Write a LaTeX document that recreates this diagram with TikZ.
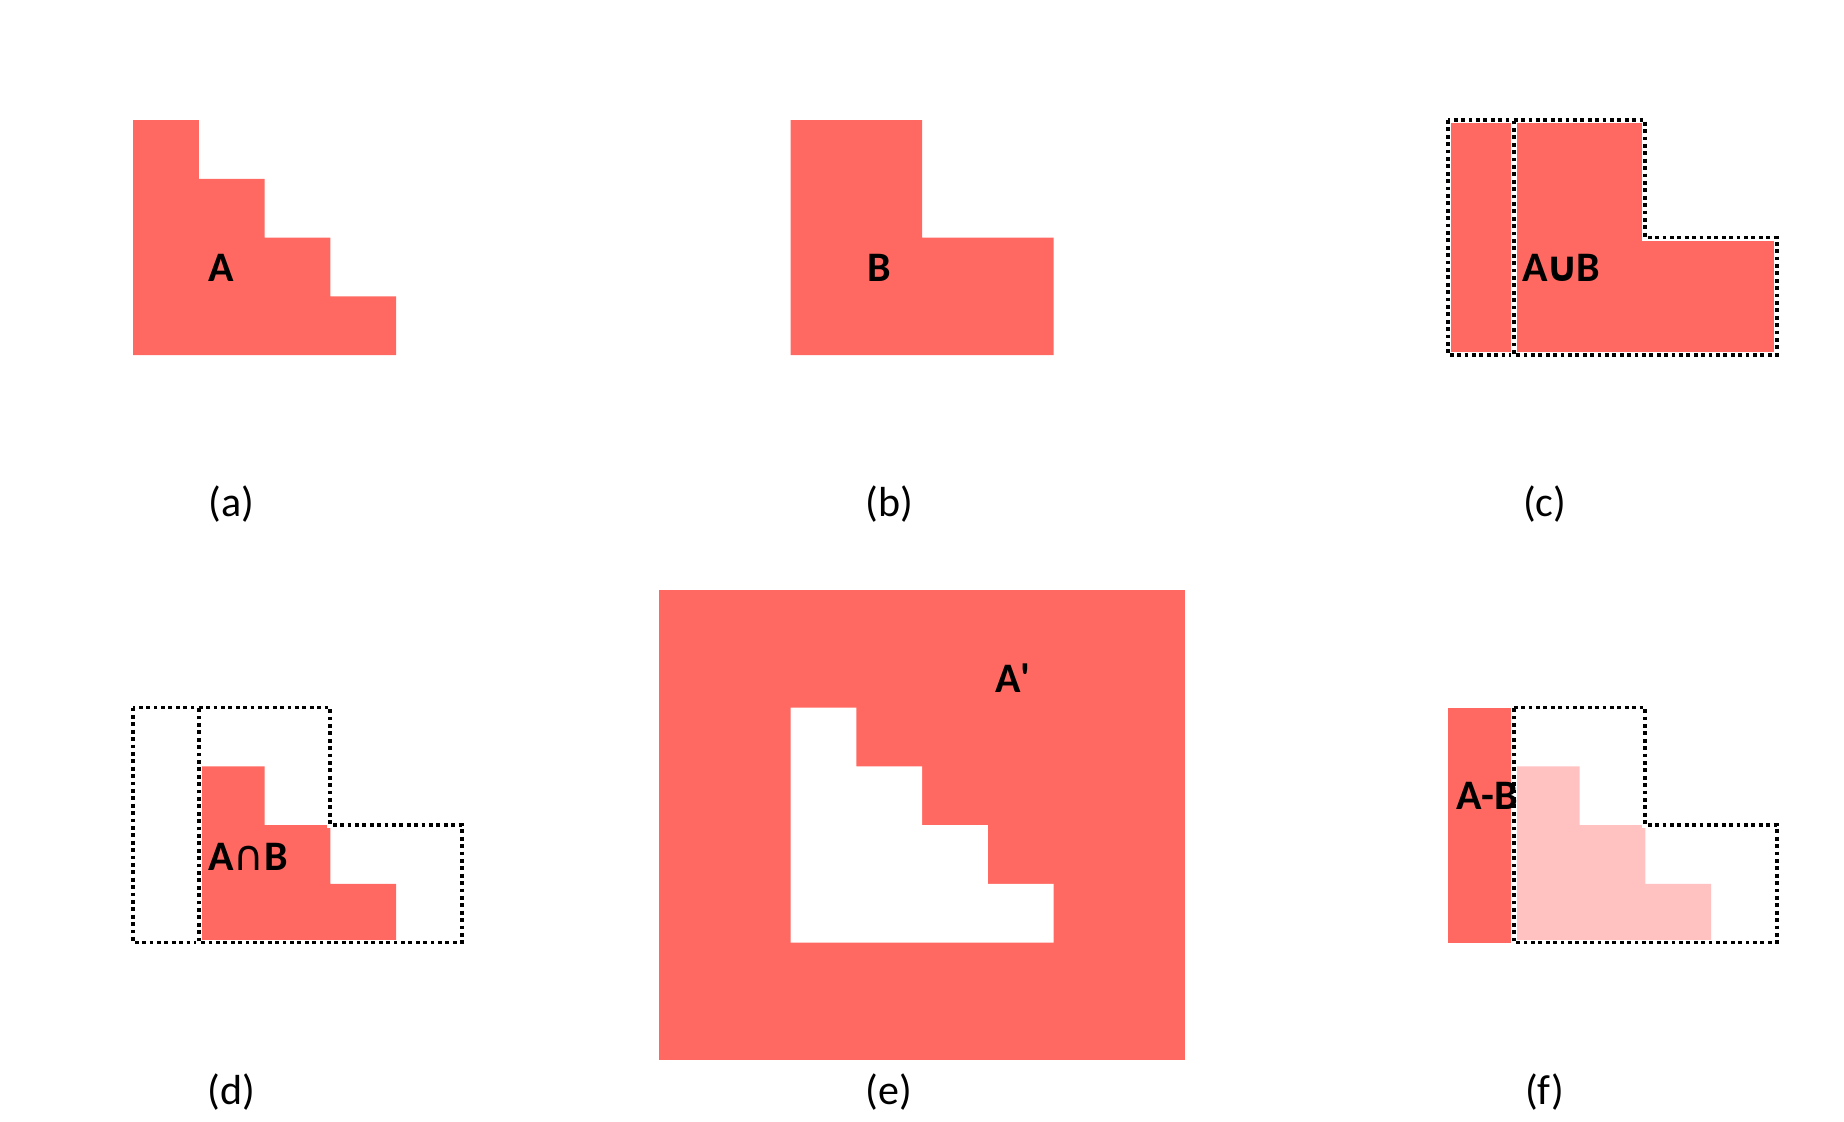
\documentclass[tikz,border=0pt]{standalone}
\usepackage{fontspec}
\setmainfont{Carlito}
\newfontfamily\symfont{DejaVu Sans}
\definecolor{setred}{HTML}{FF6961}
\definecolor{setpink}{HTML}{FFC2C1}
\newcommand{\picfont}{\fontsize{21pt}{25pt}\selectfont}
\tikzset{
  setfill/.style={fill=setred, draw=none},
  lightfill/.style={fill=setpink, draw=none},
  holefill/.style={fill=white, draw=none},
  dotline/.style={draw=black, line width=1.9pt, dash pattern=on 1.9pt off 1.8pt, preaction={draw=white, line width=3pt, solid}},
  setlabel/.style={font=\picfont\bfseries, anchor=base west, inner sep=0pt},
  caption/.style={font=\picfont, inner sep=0pt}
}
\newcommand{\shapeA}[2]{\path[#1, shift={#2}] (0,0) -| (1,1) -| (2,2) -| (3,3) -| (4,4) -- (0,4) -- cycle;}
\newcommand{\shapeB}[2]{\path[#1, shift={#2}] (0,0) -| (2,2) -| (4,4) -- (0,4) -- cycle;}
\newcommand{\shapeAB}[2]{\path[#1, shift={#2}] (1,1) -| (2,2) -| (3,3) -| (4,4) -- (1,4) -- cycle;}

\begin{document}
\begin{tikzpicture}[x=32.875pt, y=-29.375pt]
\useasboundingbox (-2.023,-2.043) rectangle (26.023,17.055);
% (a) A
\shapeA{setfill}{(0,0)}
% (b) B
\shapeB{setfill}{(10,0)}
% (c) union
\fill[setred] (20,0) rectangle (21,4);
\shapeB{setfill}{(21,0)}
\draw[dotline] (20,0) rectangle (21,4);
\shapeB{dotline}{(21,0)}
% (d) intersection
\shapeAB{setfill}{(0,10)}
\draw[dotline] (0,10) rectangle (1,14);
\shapeB{dotline}{(1,10)}
% (e) complement
\fill[setred] (8,8) rectangle (16,16);
\shapeA{holefill}{(10,10)}
% (f) difference
\fill[setred] (20,10) rectangle (21,14);
\shapeAB{lightfill}{(20,10)}
\shapeB{dotline}{(21,10)}
% labels
\node[setlabel] (labA) at (1.14,2.75) {A};
\node[setlabel] (labB) at (11.16,2.75) {B};
\node[setlabel] (labU) at (21.13,2.75) {A\kern-1.5pt{\symfont ∪}\kern-1.5pt B};
\node[setlabel] (labI) at (1.14,12.77) {A{\symfont\mdseries ∩}B};
\node[setlabel] (labC) at (13.11,9.75) {A\textquotesingle};
\node[setlabel] (labD) at (20.12,11.74) {A-B};
\foreach \cx/\cy/\ct in {1.5/6.54/a, 11.5/6.54/b, 21.47/6.54/c, 1.5/16.54/d, 11.5/16.54/e, 21.47/16.54/f}
  \node[caption] (cap\ct) at (\cx,\cy) {(\ct)};
\end{tikzpicture}
\end{document}
